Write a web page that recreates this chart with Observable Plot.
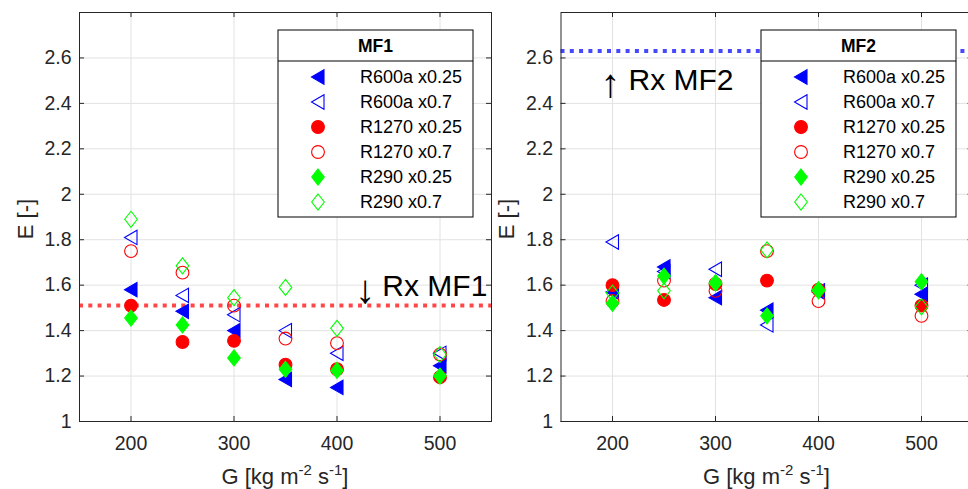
<!DOCTYPE html>
<html><head><meta charset="utf-8">
<script src="https://cdn.jsdelivr.net/npm/d3@7"></script>
<script src="https://cdn.jsdelivr.net/npm/@observablehq/plot@0.6"></script>
<style>
html,body{margin:0;padding:0;background:#fff;}
#wrap{position:relative;width:968px;height:489px;overflow:hidden;background:#fff;}
#left,#right{position:absolute;top:0;}
#left{left:0;width:500px;} #right{left:500px;width:480px;}
#wrap svg{max-width:none !important;}
</style></head><body>
<div id="wrap"><div id="left"></div><div id="right"></div></div>
<script>
// ---------- data ----------
const G = [200, 250, 300, 350, 400, 500];
const seriesNames = ["R600a x0.25", "R600a x0.7", "R1270 x0.25", "R1270 x0.7", "R290 x0.25", "R290 x0.7"];
const seriesColors = ["#0000ff", "#0000ff", "#ff0000", "#ff0000", "#00ff00", "#00ff00"];
const seriesFilled = [true, false, true, false, true, false];
const seriesShapes = ["triangleLeft", "triangleLeft", "circle", "circle", "diamond", "diamond"];

const MF1_R600a_025 = [1.58, 1.485, 1.40, 1.185, 1.15, 1.245];
const MF1_R600a_07  = [1.81, 1.555, 1.47, 1.40, 1.30, 1.30];
const MF1_R1270_025 = [1.51, 1.35, 1.355, 1.25, 1.23, 1.195];
const MF1_R1270_07  = [1.75, 1.655, 1.51, 1.365, 1.345, 1.295];
const MF1_R290_025  = [1.455, 1.425, 1.28, 1.23, 1.225, 1.20];
const MF1_R290_07   = [1.89, 1.685, 1.545, 1.59, 1.41, 1.295];

const MF2_R600a_025 = [1.57, 1.68, 1.545, 1.49, 1.57, 1.56];
const MF2_R600a_07  = [1.79, 1.66, 1.67, 1.425, 1.575, 1.60];
const MF2_R1270_025 = [1.60, 1.535, 1.605, 1.62, 1.58, 1.51];
const MF2_R1270_07  = [1.53, 1.62, 1.575, 1.75, 1.53, 1.465];
const MF2_R290_025  = [1.52, 1.64, 1.61, 1.465, 1.575, 1.615];
const MF2_R290_07   = [1.565, 1.575, 1.61, 1.755, 1.58, 1.505];

const Rx_MF1 = 1.511;
const Rx_MF2 = 2.631;
const labelMF1 = {G: 444, E: 1.594, text: "Rx MF1"};
const arrowMF1 = {G: 427.5, E: 1.58, text: "\u2193"};
const labelMF2 = {G: 215.5, E: 2.50, text: "Rx MF2"};
const arrowMF2 = {G: 198, E: 2.485, text: "\u2191"};

const xTicks = [200, 300, 400, 500];
const yTicks = [1, 1.2, 1.4, 1.6, 1.8, 2, 2.2, 2.4, 2.6];
const xDomain = [150, 550];
const yDomain = [1, 2.8];

// ---------- style ----------
const FONT = "'Liberation Sans', Arial, Helvetica, sans-serif";
const AXC = "#262626";
const GRID = "#e2e2e2";
const R = 7;

const symbols = {
  triangleLeft: {draw(ctx, size) { const s = Math.sqrt(size / Math.PI) / 7;
    ctx.moveTo(-6.5 * s, 0); ctx.lineTo(6 * s, -7.2 * s); ctx.lineTo(6 * s, 7.2 * s); ctx.closePath(); }},
  circle: {draw(ctx, size) { const r = Math.sqrt(size / Math.PI) / 7 * 6.4;
    ctx.moveTo(r, 0); ctx.arc(0, 0, r, 0, 2 * Math.PI); ctx.closePath(); }},
  diamond: {draw(ctx, size) { const s = Math.sqrt(size / Math.PI) / 7;
    ctx.moveTo(0, -8 * s); ctx.lineTo(6.3 * s, 0); ctx.lineTo(0, 8 * s); ctx.lineTo(-6.3 * s, 0); ctx.closePath(); }}
};

function makePanel(el, cfg) {
  const {width, marginLeft, marginRight, title, series, rx, rxColor, label, arrow, legendX} = cfg;
  const marginTop = 12, marginBottom = 68, height = 489;
  const fw = width - marginLeft - marginRight, fh = height - marginTop - marginBottom;
  const dots = series.map((arr, k) => Plot.dot(G.map((g, i) => ({G: g, E: arr[i]})), {
    x: "G", y: "E", r: R, symbol: symbols[seriesShapes[k]],
    stroke: seriesColors[k], strokeWidth: 1.1,
    fill: seriesFilled[k] ? seriesColors[k] : "none"
  }));
  const svg = Plot.plot({
    width, height, marginLeft, marginRight, marginTop, marginBottom,
    style: {fontFamily: FONT, fontSize: "19.5px", color: AXC, background: "white", overflow: "visible", maxWidth: "none"},
    x: {domain: xDomain},
    y: {domain: yDomain},
    marks: [
      Plot.gridX(xTicks, {stroke: GRID, strokeOpacity: 1}),
      Plot.gridY(yTicks, {stroke: GRID, strokeOpacity: 1}),
      Plot.ruleY([rx], {stroke: rxColor, strokeOpacity: 0.72, strokeWidth: 4, strokeDasharray: "4,5.3"}),
      ...dots,
      Plot.text([label], {x: "G", y: "E", text: "text", textAnchor: "start", lineAnchor: "middle", fontSize: 30, fill: "#000"}),
      Plot.text([arrow], {x: "G", y: "E", text: "text", textAnchor: "middle", lineAnchor: "middle", fontSize: 40, fontWeight: 300, fill: "#000"}),
      Plot.frame({stroke: AXC, strokeWidth: 1}),
      Plot.tickX(xTicks, {x: d => d, insetTop: fh - 5, stroke: AXC}),
      Plot.tickX(xTicks, {x: d => d, insetBottom: fh - 5, stroke: AXC}),
      Plot.tickY(yTicks, {y: d => d, insetRight: fw - 5, stroke: AXC}),
      Plot.tickY(yTicks, {y: d => d, insetLeft: fw - 5, stroke: AXC}),
      Plot.axisX(xTicks, {tickSize: 0, tickPadding: 15, label: null, tickFormat: d => String(d)}),
      Plot.axisY(yTicks, {tickSize: 0, tickPadding: 8, label: null, tickFormat: d => String(d)})
    ]
  });
  const s = d3.select(svg);
  // axis labels
  const cx = marginLeft + fw / 2;
  const xl = s.append("text").attr("x", cx).attr("y", 484).attr("text-anchor", "middle")
    .attr("fill", AXC).style("font-family", FONT).style("font-size", "22px");
  xl.append("tspan").text("G [kg m");
  xl.append("tspan").attr("dy", -9).style("font-size", "15px").text("-2");
  xl.append("tspan").attr("dy", 9).text(" s");
  xl.append("tspan").attr("dy", -9).style("font-size", "15px").text("-1");
  xl.append("tspan").attr("dy", 9).text("]");
  s.append("text").attr("transform", `translate(${marginLeft - 46.5},${219}) rotate(-90)`)
    .attr("text-anchor", "middle").attr("fill", AXC).style("font-family", FONT).style("font-size", "22px")
    .text("E [-]");
  // legend
  const lg = s.append("g").attr("text-anchor", "start");
  const lw = 195, ly = 30, lh = 187;
  lg.append("rect").attr("x", legendX).attr("y", ly).attr("width", lw).attr("height", lh)
    .attr("fill", "white").attr("stroke", "#000").attr("stroke-width", 1);
  lg.append("line").attr("x1", legendX).attr("x2", legendX + lw).attr("y1", 61).attr("y2", 61)
    .attr("stroke", "#000").attr("stroke-width", 1);
  lg.append("text").attr("x", legendX + lw / 2).attr("y", 46).attr("dy", "0.35em").attr("text-anchor", "middle")
    .style("font-family", FONT).style("font-size", "17.5px").style("font-weight", "bold").attr("fill", "#000").text(title);
  seriesNames.forEach((name, k) => {
    const y = 77 + 25 * k;
    lg.append("path").attr("transform", `translate(${legendX + 40},${y})`)
      .attr("d", d3.symbol(symbols[seriesShapes[k]], Math.PI * R * R)())
      .attr("fill", seriesFilled[k] ? seriesColors[k] : "none")
      .attr("stroke", seriesColors[k]).attr("stroke-width", 1.1);
    lg.append("text").attr("x", legendX + 82).attr("y", y).attr("dy", "0.35em").attr("text-anchor", "start")
      .style("font-family", FONT).style("font-size", "18px").attr("fill", "#000").text(name);
  });
  el.appendChild(svg);
}

makePanel(document.getElementById("left"), {
  width: 500, marginLeft: 79, marginRight: 9, title: "MF1",
  series: [MF1_R600a_025, MF1_R600a_07, MF1_R1270_025, MF1_R1270_07, MF1_R290_025, MF1_R290_07],
  rx: Rx_MF1, rxColor: "#ff0000", label: labelMF1, arrow: arrowMF1, legendX: 278
});
makePanel(document.getElementById("right"), {
  width: 480, marginLeft: 60.5, marginRight: 7.5, title: "MF2",
  series: [MF2_R600a_025, MF2_R600a_07, MF2_R1270_025, MF2_R1270_07, MF2_R290_025, MF2_R290_07],
  rx: Rx_MF2, rxColor: "#0000ff", label: labelMF2, arrow: arrowMF2, legendX: 261
});
</script>
</body></html>
